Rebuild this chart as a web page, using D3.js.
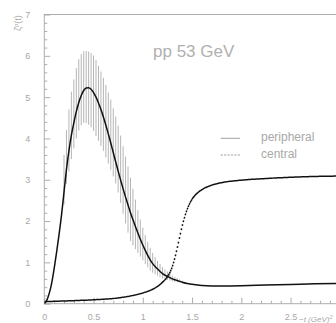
<!DOCTYPE html>
<html>
<head>
<meta charset="utf-8">
<script src="https://cdn.jsdelivr.net/npm/d3@7"></script>
<style>
  html, body { margin: 0; padding: 0; background: #fff; }
  svg { display: block; }
  text { font-family: "Liberation Sans", Arial, sans-serif; }
</style>
</head>
<body>
<svg id="chart" width="336" height="323"></svg>
<script>
// Peripheral profile ζ^p(t), sampled in -t (GeV²)
const periphT = [0,0.025,0.05,0.075,0.1,0.125,0.15,0.175,0.2,0.225,0.25,0.275,0.3,0.325,0.35,0.375,
  0.4,0.425,0.45,0.475,0.5,0.525,0.55,0.575,0.6,0.625,0.65,0.675,0.7,0.725,0.75,0.775,
  0.8,0.825,0.85,0.875,0.9,0.925,0.95,0.975,1.0,1.025,1.05,1.075,1.1,1.125,1.15,1.175,
  1.2,1.225,1.25,1.275,1.3,1.325,1.35,1.375,1.4,1.45,1.5,1.6,1.7,1.8,2.0,2.25,2.5,2.75,3.0];
const periphV = [0,0.08,0.25,0.5,0.85,1.25,1.68,2.15,2.7,3.25,3.7,4.08,4.38,4.65,4.87,5.04,
  5.16,5.22,5.23,5.19,5.11,5.0,4.86,4.7,4.52,4.32,4.11,3.89,3.66,3.43,3.21,2.99,
  2.78,2.58,2.39,2.2,2.03,1.87,1.71,1.56,1.42,1.29,1.17,1.06,0.97,0.9,0.84,0.78,
  0.73,0.69,0.66,0.63,0.6,0.58,0.56,0.54,0.52,0.49,0.47,0.44,0.43,0.43,0.435,0.45,0.465,0.48,0.49];

// Error bars on the peripheral profile, for t = 0.2 … 1.4
const errFirstIndex = 8;
const errUp = [0.9,0.95,1.0,1.05,1.05,1.05,1.05,1.0, 0.95,0.9,0.87,0.88,0.9,0.9,0.9,0.92,
  0.95,0.98,1.0,1.05,1.07,1.1,1.1,1.08, 1.03,0.98,0.93,0.85,0.75,0.65,0.55,0.48,
  0.42,0.37,0.33,0.29,0.26,0.23,0.2,0.18, 0.16,0.14,0.12,0.1,0.08,0.07,0.06,0.05, 0.04];
const errDown = [0.3,0.35,0.5,0.58,0.62,0.65,0.68,0.72, 0.78,0.85,0.9,0.92,0.93,0.94,0.92,0.88,
  0.82,0.78,0.72,0.65,0.58,0.52,0.52,0.55, 0.6,0.64,0.67,0.68,0.62,0.55,0.48,0.42,
  0.37,0.33,0.29,0.26,0.22,0.19,0.16,0.14, 0.12,0.1,0.08,0.07,0.06,0.05,0.04,0.03, 0.02];

// Central profile
const centralT = [0,0.25,0.5,0.75,0.9,1.0,1.1,1.15,1.2,1.25,1.3,1.325,1.35,1.375,1.4,1.425,
  1.45,1.475,1.5,1.55,1.6,1.7,1.8,2.0,2.25,2.5,2.75,3.0];
const centralV = [0.05,0.07,0.095,0.14,0.2,0.26,0.35,0.42,0.52,0.65,0.9,1.1,1.35,1.62,1.88,2.1,
  2.28,2.42,2.53,2.67,2.76,2.87,2.93,2.99,3.03,3.06,3.08,3.09];

const xMajor = [0, 0.5, 1, 1.5, 2, 2.5];
const xMajorLabels = ["0", "0.5", "1", "1.5", "2", "2.5"];
const yMajor = [0, 1, 2, 3, 4, 5, 6, 7];
const yMajorLabels = ["0", "1", "2", "3", "4", "5", "6", "7"];

const legendLabels = ["peripheral", "central"];
const titleText = "pp 53 GeV";

const svg = d3.select("#chart");
const axisColor = "#adadad";
const textColor = "#a8a8a8";

const x = d3.scaleLinear().domain([0, 3]).range([44.3, 339.8]);
const y = d3.scaleLinear().domain([0, 7]).range([303.7, 14.5]);

// frame
svg.append("rect")
  .attr("x", x(0)).attr("y", y(7))
  .attr("width", x(3) - x(0)).attr("height", y(0) - y(7))
  .attr("fill", "none").attr("stroke", axisColor).attr("stroke-width", 1);

// ticks pointing into the plot
const xMinor = d3.range(0, 3.001, 0.1).filter(v => Math.abs(v * 2 - Math.round(v * 2)) > 1e-6);
const yMinor = d3.range(0, 7.001, 0.2).filter(v => Math.abs(v - Math.round(v)) > 1e-6);

const xAxis = d3.axisBottom(x).tickValues(xMajor).tickSizeInner(-6).tickSizeOuter(0)
  .tickFormat((d, i) => xMajorLabels[i]).tickPadding(10);
const gx = svg.append("g").attr("transform", `translate(0,${y(0)})`).call(xAxis);
gx.select(".domain").remove();
gx.selectAll("line").attr("stroke", axisColor);
gx.selectAll("text").attr("fill", textColor).style("font-size", "9px")
  .style("font-family", "Liberation Sans, Arial, sans-serif");
const gxm = svg.append("g").attr("transform", `translate(0,${y(0)})`)
  .call(d3.axisBottom(x).tickValues(xMinor).tickSizeInner(-3).tickSizeOuter(0).tickFormat(""));
gxm.select(".domain").remove();
gxm.selectAll("line").attr("stroke", axisColor);

const yAxis = d3.axisLeft(y).tickValues(yMajor).tickSizeInner(-6).tickSizeOuter(0)
  .tickFormat((d, i) => yMajorLabels[i]).tickPadding(14);
const gy = svg.append("g").attr("transform", `translate(${x(0)},0)`).call(yAxis);
gy.select(".domain").remove();
gy.selectAll("line").attr("stroke", axisColor);
gy.selectAll("text").attr("fill", textColor).style("font-size", "9px")
  .style("font-family", "Liberation Sans, Arial, sans-serif");
const gym = svg.append("g").attr("transform", `translate(${x(0)},0)`)
  .call(d3.axisLeft(y).tickValues(yMinor).tickSizeInner(-3).tickSizeOuter(0).tickFormat(""));
gym.select(".domain").remove();
gym.selectAll("line").attr("stroke", axisColor);

// axis titles
svg.append("text")
  .attr("transform", "translate(20.5,31) rotate(-90)")
  .attr("fill", textColor).style("font-size", "9px")
  .html('ζ<tspan dy="-3" font-size="6px">p</tspan><tspan dy="3">(t)</tspan>');
svg.append("text")
  .attr("x", 299).attr("y", 321.5)
  .attr("fill", textColor).style("font-size", "8px").style("font-style", "italic")
  .html('−t  (GeV)<tspan dy="-3" font-size="5.5px">2</tspan>');

// error bars
const bars = errUp.map((u, i) => {
  const k = errFirstIndex + i;
  return { t: periphT[k], hi: periphV[k] + u, lo: periphV[k] - errDown[i] };
});
svg.append("g").selectAll("line").data(bars).join("line")
  .attr("x1", d => x(d.t)).attr("x2", d => x(d.t))
  .attr("y1", d => y(d.hi)).attr("y2", d => y(d.lo))
  .attr("stroke", "#b5b5b5").attr("stroke-width", 1);

svg.append("clipPath").attr("id", "plotclip").append("rect")
  .attr("x", x(0)).attr("y", y(7)).attr("width", x(3) - x(0)).attr("height", y(0) - y(7));

const line = d3.line().x(d => x(d[0])).y(d => y(d[1])).curve(d3.curveMonotoneX);

// peripheral: solid
svg.append("path")
  .datum(periphT.map((t, i) => [t, periphV[i]]))
  .attr("d", line)
  .attr("fill", "none").attr("stroke", "#111").attr("stroke-width", 1.5)
  .attr("clip-path", "url(#plotclip)");

// central: dashed, each short step of the curve starts a fresh dash
const guide = svg.append("path")
  .datum(centralT.map((t, i) => [t, centralV[i]]))
  .attr("d", line).attr("fill", "none").attr("stroke", "none");
const node = guide.node();
const total = node.getTotalLength();
const stepPx = x(0.01) - x(0);
const samples = [];
let nextX = x(0);
for (let s = 0; s <= total; s += 0.1) {
  const p = node.getPointAtLength(s);
  if (p.x >= nextX) { samples.push([p.x, p.y]); nextX += stepPx; }
}
const dashLen = 1.8;
let dPath = "";
for (let i = 0; i < samples.length - 1; i++) {
  const a = samples[i], b = samples[i + 1];
  const dx = b[0] - a[0], dy = b[1] - a[1];
  const len = Math.hypot(dx, dy);
  const f = Math.min(1, dashLen / len);
  dPath += `M${a[0]},${a[1]}L${a[0] + dx * f},${a[1] + dy * f}`;
}
svg.append("path").attr("d", dPath)
  .attr("fill", "none").attr("stroke", "#111").attr("stroke-width", 1.5)
  .attr("clip-path", "url(#plotclip)");

// title
svg.append("text").attr("x", 153).attr("y", 56.7)
  .attr("fill", "#b0b0b0").style("font-size", "17px").text(titleText);

// legend
const legY = [138.3, 155];
svg.append("line").attr("x1", 220.7).attr("x2", 240).attr("y1", legY[0]).attr("y2", legY[0])
  .attr("stroke", "#a0a0a0").attr("stroke-width", 1);
svg.append("line").attr("x1", 220.7).attr("x2", 240).attr("y1", legY[1]).attr("y2", legY[1])
  .attr("stroke", "#a0a0a0").attr("stroke-width", 1).attr("stroke-dasharray", "2.2,1.2");
legendLabels.forEach((lab, i) => {
  svg.append("text").attr("x", 261).attr("y", legY[i] + 3)
    .attr("fill", textColor).style("font-size", "12px").text(lab);
});
</script>
</body>
</html>
